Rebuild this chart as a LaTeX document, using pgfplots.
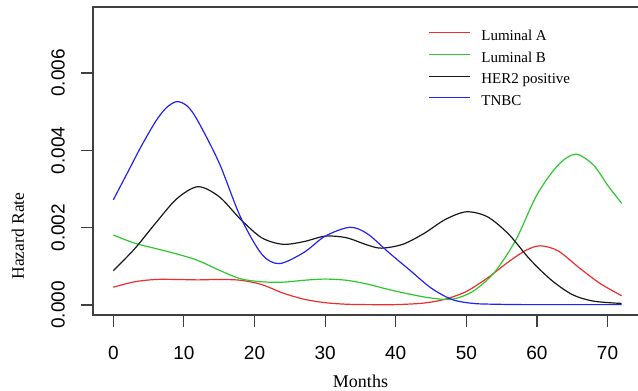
\documentclass[border=0pt]{standalone}
\usepackage{pgfplots}
\pgfplotsset{compat=1.18}
\usepackage{fontspec}
\setmainfont{Liberation Serif}
\setsansfont{Liberation Sans}
\definecolor{lumAcol}{RGB}{238,45,45}
\definecolor{lumBcol}{RGB}{45,200,45}
\definecolor{herIIcol}{RGB}{25,25,25}
\definecolor{tnbccol}{RGB}{35,35,240}
\begin{document}
\begin{tikzpicture}[x=1pt,y=1pt]
\useasboundingbox (0,0) rectangle (638,391);
\begin{axis}[
 at={(93pt,76pt)}, anchor=south west, scale only axis,
 width=549pt, height=308pt,
 xmin=-2.88, xmax=74.88, ymin=-0.0002586, ymax=0.0077069,
 axis line style={black!75, line width=1.1pt},
 tick style={black!75, line width=1.1pt},
 tick align=outside, major tick length=12pt,
 xtick={0,10,...,70},
 ytick={0,0.002,0.004,0.006},
 yticklabels={0.000,0.002,0.004,0.006},
 scaled y ticks=false,
 xtick pos=left, ytick pos=left,
 /pgf/number format/assume math mode=true,
 ticklabel style={font=\fontsize{19}{19}\selectfont\sffamily},
 xticklabel style={anchor=north, inner sep=0pt, yshift=-19pt},
 yticklabel style={rotate=90, anchor=south, inner sep=0pt, yshift=16pt},
 legend cell align=left,
 legend image code/.code={\draw[#1] (0pt,3.5pt) -- (41pt,3.5pt);},
 legend style={draw=none, fill=none, at={(axis description cs:0.6102,0.9318)}, anchor=north west,
   font=\fontsize{15}{15}\selectfont, inner sep=0pt, row sep=6pt, column sep=9pt},
]
\addplot[draw=lumAcol, line width=1.2pt, smooth] coordinates {(0,0.00046) (3,0.00060) (6,0.00066) (9,0.00066) (12,0.00065) (15,0.00066) (18,0.00064) (21,0.00053) (24,0.00031) (27,0.00015) (30,0.00006) (33,0.00002) (36,0.00001) (40,0.00001) (44,0.00005) (47,0.00015) (50,0.00035) (53,0.00070) (56,0.00112) (58.5,0.00142) (60.5,0.00153) (63,0.00140) (66,0.00096) (69,0.00055) (72,0.00024)};
\addlegendentry{Luminal A}
\addplot[draw=lumBcol, line width=1.2pt, smooth] coordinates {(0,0.00181) (3,0.00160) (6,0.00146) (9,0.00132) (12,0.00115) (15,0.00090) (18,0.00068) (21,0.00060) (24,0.00059) (27,0.00064) (30,0.00067) (33,0.00064) (36,0.00054) (39,0.00040) (42,0.00028) (45,0.00018) (48,0.00015) (51,0.00036) (54,0.00085) (57,0.00168) (60,0.00285) (63,0.00362) (65.5,0.00390) (68,0.00362) (70,0.00310) (72,0.00263)};
\addlegendentry{Luminal B}
\addplot[draw=herIIcol, line width=1.2pt, smooth] coordinates {(0,0.00089) (3,0.00145) (6,0.00212) (9,0.00275) (12,0.00306) (15,0.00280) (18,0.00222) (21,0.00174) (24,0.00157) (27,0.00164) (30,0.00178) (33,0.00174) (36,0.00155) (38,0.00147) (41,0.00157) (44,0.00185) (47,0.00221) (50,0.00241) (53,0.00228) (56,0.00183) (59,0.00118) (62,0.00065) (65,0.00027) (68,0.00010) (72,0.00004)};
\addlegendentry{HER2 positive}
\addplot[draw=tnbccol, line width=1.2pt, smooth] coordinates {(0,0.00272) (2,0.00342) (4,0.00412) (6,0.00475) (7.5,0.00510) (9,0.00526) (10.5,0.00514) (12,0.00475) (15,0.00367) (18,0.00228) (21,0.00132) (23.5,0.00107) (27,0.00136) (30,0.00178) (33.5,0.00201) (36,0.00184) (39,0.00136) (42,0.00090) (45,0.00044) (48,0.00014) (51,0.00004) (54,0.00002) (58,0.00001) (62,0.00001) (66,0.00001) (72,0.00001)};
\addlegendentry{TNBC}
\end{axis}
\node[font=\fontsize{18}{18}\selectfont] at (360.5,10) {Months};
\node[font=\fontsize{17.5}{17.5}\selectfont, rotate=90] at (18,155) {Hazard Rate};
\end{tikzpicture}
\end{document}
